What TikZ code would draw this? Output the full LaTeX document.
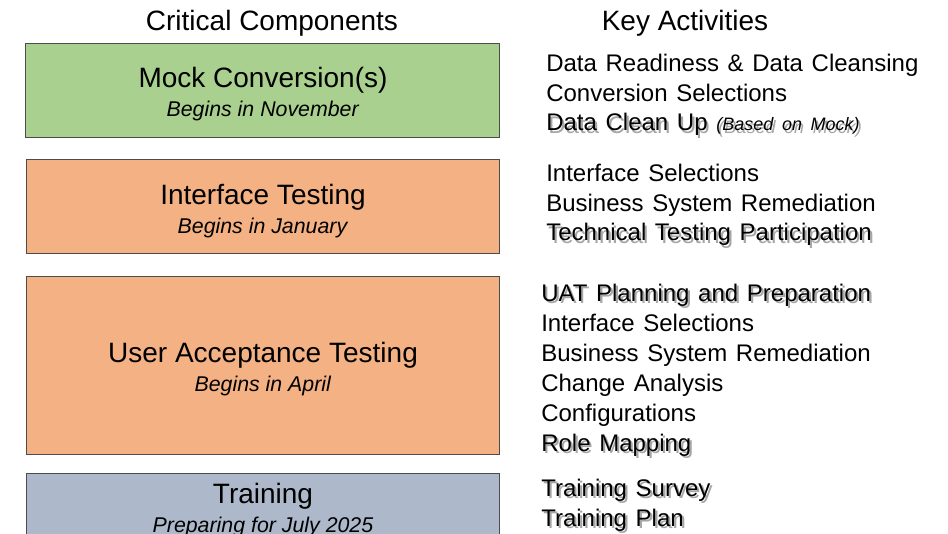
\documentclass[tikz,border=0pt]{standalone}
\usepackage{fontspec}
\setmainfont{Liberation Sans}
\usetikzlibrary{positioning}

\definecolor{mockgreen}{HTML}{A9D08E}
\definecolor{testorange}{HTML}{F4B183}
\definecolor{trainblue}{HTML}{ADB9CA}
\newcommand{\shtxt}[1]{\makebox[0pt][l]{\hspace{1.6pt}\raisebox{-1.6pt}{\color{black!35}#1}}#1}
\newcommand{\ttlfont}{\fontsize{21}{22.5}\selectfont}
\newcommand{\actfont}{\fontsize{18}{22.4}\selectfont\spaceskip=1.3\fontdimen2\font}

\begin{document}
\begin{tikzpicture}[x=0.75pt,y=-0.75pt,
  box/.style={draw=black!70, line width=0.75pt, minimum width=355pt, inner sep=0pt},
  lbl/.style={align=center, inner sep=0pt, font=\fontsize{16}{21.75}\selectfont},
  head/.style={anchor=base, inner sep=0pt, font=\fontsize{21}{25}\selectfont},
  acts/.style={align=left, anchor=base west, inner sep=0pt, font=\actfont}]

\useasboundingbox (0,0) rectangle (948,534);
\clip (0,0) rectangle (948,534);

\node [head] (h1) at (272,31) {Critical Components};
\node [head] (h2) at (685,31) {Key Activities};

% components
\node [box, fill=mockgreen, minimum height=70.5pt] (mock) at (262.5,91) {};
\node [box, fill=testorange, minimum height=70.5pt] (iface) at (263,207) {};
\node [box, fill=testorange, minimum height=133pt] (uat) at (263,365.5) {};
\node [box, fill=trainblue, minimum height=70.5pt] (train) at (263,520) {};

\node [lbl] (mockl) at (263,94) {{\ttlfont Mock Conversion(s)}\\\textit{Begins in November}};
\node [lbl] (ifacel) at (263,211) {{\ttlfont Interface Testing}\\\textit{Begins in January}};
\node [lbl] (uatl) at (263,369) {{\ttlfont User Acceptance Testing}\\\textit{Begins in April}};
\node [lbl] (trainl) at (263,510) {{\ttlfont Training}\\\textit{Preparing for July 2025}};

% activities (anchored at the baseline of the last line)
\node [acts] (a1) at (546,131) {Data Readiness \& Data Cleansing\\Conversion Selections\\
  \shtxt{Data Clean Up {\fontsize{13.5}{16}\selectfont\itshape (Based on Mock)}}};
\node [acts] (a2) at (546,241) {Interface Selections\\Business System Remediation\\
  \shtxt{Technical Testing Participation}};
\node [acts] (a3) at (541,451) {\shtxt{UAT Planning and Preparation}\\Interface Selections\\
  Business System Remediation\\Change Analysis\\Configurations\\\shtxt{Role Mapping}};
\node [acts] (a4) at (541,526) {\shtxt{Training Survey}\\\shtxt{Training Plan}};
\end{tikzpicture}
\end{document}
